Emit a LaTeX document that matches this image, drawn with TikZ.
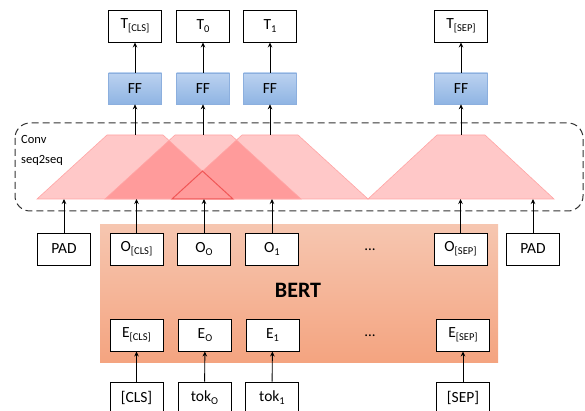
\documentclass[tikz,border=0pt]{standalone}
\usepackage{fontspec}
\setmainfont{Carlito}
\usetikzlibrary{arrows.meta}
\definecolor{pinkL}{RGB}{255,200,200}
\definecolor{pinkD}{RGB}{255,155,155}
\definecolor{pinkE}{RGB}{255,165,165}
\definecolor{redT}{RGB}{240,85,85}
\definecolor{ffTop}{RGB}{187,210,240}
\definecolor{ffBot}{RGB}{143,180,227}
\definecolor{ffEdge}{RGB}{140,175,222}
\definecolor{bertTop}{RGB}{246,198,176}
\definecolor{bertBot}{RGB}{244,164,128}
\definecolor{dashc}{RGB}{50,50,50}
\newcommand\sbs[1]{\raisebox{-2.8pt}{\fontsize{10.5}{11}\selectfont #1}}
\newcommand\trapz[3]{({#1-#3},199) -- ({#1-#2},135) -- ({#1+#2},135) -- ({#1+#3},199) -- cycle}
\begin{document}
\begin{tikzpicture}[x=1pt,y=-1pt,
  box/.style={draw=black, line width=0.9pt, fill=white, minimum width=53pt, minimum height=32pt, inner sep=0pt, font=\fontsize{15.5}{17}\selectfont},
  ffbox/.style={draw=ffEdge, line width=0.6pt, top color=ffTop, bottom color=ffBot, minimum width=53pt, minimum height=31pt, inner sep=0pt, font=\fontsize{15.5}{17}\selectfont},
  arr/.style={-{Stealth[length=5pt,width=4.5pt]}, line width=0.9pt},
  trapfill/.style={fill=pinkL},
  trapedge/.style={draw=pinkE, line width=0.6pt}]
\clip (0,0) rectangle (585,411);
\useasboundingbox (0,0) rectangle (585,411);

% dashed frame
\draw[dashc, line width=1pt, dash pattern=on 7pt off 4pt, rounded corners=15pt] (15,123) rectangle (583,211);
\node[anchor=west, align=left, font=\fontsize{12.5}{20}\selectfont, inner sep=0pt] (convlbl) at (21,150) {Conv\\seq2seq};

% trapezoids
\fill[trapfill] \trapz{135}{28}{98};
\fill[trapfill] \trapz{203}{28}{98};
\fill[trapfill] \trapz{270}{28}{98};
\fill[trapfill] \trapz{461}{24}{93};
\begin{scope}
  \clip \trapz{135}{28}{98};
  \fill[pinkD] \trapz{203}{28}{98};
  \fill[pinkD] \trapz{270}{28}{98};
\end{scope}
\begin{scope}
  \clip \trapz{203}{28}{98};
  \fill[pinkD] \trapz{270}{28}{98};
\end{scope}
\draw[trapedge] \trapz{135}{28}{98};
\draw[trapedge] \trapz{203}{28}{98};
\draw[trapedge] \trapz{270}{28}{98};
\draw[trapedge] \trapz{461}{24}{93};
\draw[redT, line width=1pt, line join=miter] (172,199) -- (202.5,171.1) -- (233,199) -- cycle;

% coordinates on trapezoids
\coordinate (tp1) at (135,135);
\coordinate (tp2) at (203,135);
\coordinate (tp3) at (270,135);
\coordinate (tp4) at (461,135);
\coordinate (bpadl) at (64,199);
\coordinate (bcls) at (136.5,199);
\coordinate (b0) at (204,199);
\coordinate (b1) at (272,199);
\coordinate (bsep) at (460.5,199);
\coordinate (bpadr) at (533,199);

% top outputs
\node[box] (tcls) at (135,26) {T\sbs{[CLS]}};
\node[box] (t0) at (203,26) {T\sbs{0}};
\node[box] (t1) at (270,26) {T\sbs{1}};
\node[box] (tsep) at (461,26) {T\sbs{[SEP]}};

\node[ffbox] (ff1) at (135,88.5) {FF};
\node[ffbox] (ff2) at (203,88.5) {FF};
\node[ffbox] (ff3) at (270,88.5) {FF};
\node[ffbox] (ff4) at (461,88.5) {FF};

\foreach \a/\b in {ff1/tcls, ff2/t0, ff3/t1, ff4/tsep, tp1/ff1, tp2/ff2, tp3/ff3, tp4/ff4}
  \draw[arr] (\a) -- (\b);

% BERT
\fill[top color=bertTop, bottom color=bertBot] (100,225) rectangle (498,362);
\node[font=\fontsize{22}{24}\selectfont\bfseries] (bert) at (298,290) {BERT};

\node[box] (padl) at (64,249) {PAD};
\node[box] (ocls) at (136.5,249) {O\sbs{[CLS]}};
\node[box] (o0) at (204,249) {O\sbs{O}};
\node[box] (o1) at (272,249) {O\sbs{1}};
\node[box] (osep) at (460.5,249) {O\sbs{[SEP]}};
\node[box] (padr) at (533,249) {PAD};
\node[font=\fontsize{15}{16}\selectfont] (dots1) at (370,250) {...};

\node[box] (ecls) at (136.5,335) {E\sbs{[CLS]}};
\node[box] (e0) at (205,335) {E\sbs{O}};
\node[box] (e1) at (272.5,335) {E\sbs{1}};
\node[box] (esep) at (463,335) {E\sbs{[SEP]}};
\node[font=\fontsize{15}{16}\selectfont] (dots2) at (370,336) {...};

\node[box] (kcls) at (136.5,398) {[CLS]};
\node[box] (k0) at (204.5,398) {tok\sbs{O}};
\node[box] (k1) at (272,398) {tok\sbs{1}};
\node[box] (ksep) at (463,398) {[SEP]};

\foreach \a/\b in {padl/bpadl, ocls/bcls, o0/b0, o1/b1, osep/bsep, padr/bpadr, kcls/ecls, k0/e0, k1/e1, ksep/esep}
  \draw[arr] (\a) -- (\b);
\end{tikzpicture}
\end{document}
